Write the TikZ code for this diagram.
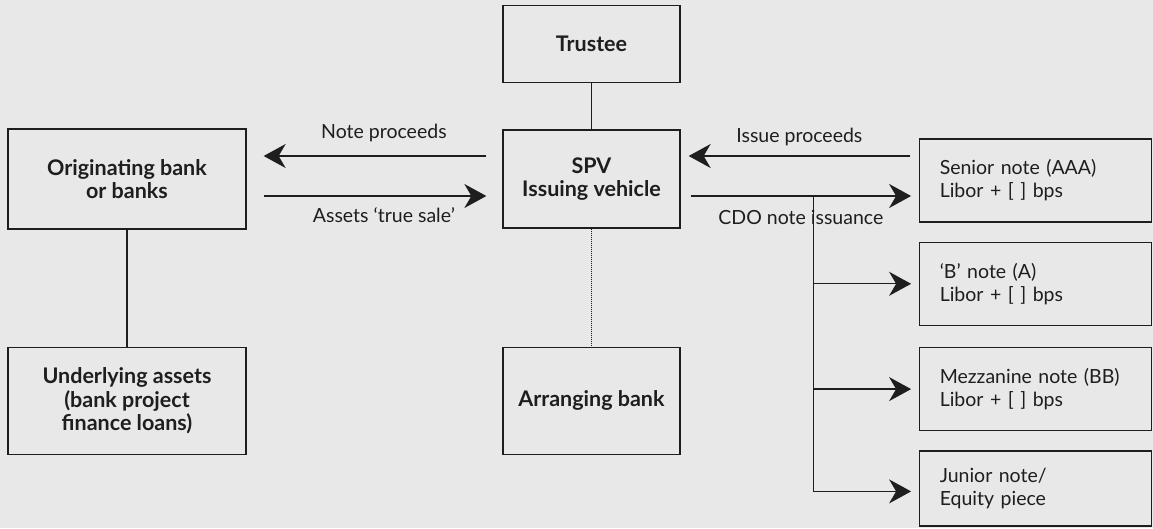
\documentclass[tikz,border=0pt]{standalone}
\usepackage{xcolor}
\usepackage{fontspec}
\setmainfont{Lato}
\usepackage{tikz}
\usetikzlibrary{positioning, arrows.meta, calc}
\definecolor{bgGrey}{HTML}{E8E8E8}
\definecolor{lineDark}{HTML}{1E1E1E}

\begin{document}
\begin{tikzpicture}[x=1pt, y=-1pt, node distance=46pt and 60pt,
	box/.style={draw=lineDark, line width=1.3pt, rectangle, inner sep=0pt, minimum width=177pt, align=center, text=lineDark, font=\fontsize{21.5}{23.3}\selectfont\bfseries},
	notebox/.style={draw=lineDark, line width=1.3pt, rectangle, inner xsep=0pt, minimum width=232pt, minimum height=83pt, text width=192pt, align=left, text=lineDark, font=\fontsize{19.5}{23}\selectfont},
	lbl/.style={text=lineDark, font=\fontsize{19.5}{22}\selectfont},
	flow/.style={-{Stealth[length=22pt, width=24pt, inset=7pt]}, draw=lineDark, line width=1.3pt},
	link/.style={draw=lineDark, line width=1.3pt}]
	% Background
	\fill[bgGrey] (0,0) rectangle (1153,528);
	\useasboundingbox (0,0) rectangle (1153,528);
	
	% Entities
	\node[box, minimum height=98pt] (spv) at (591.5,179) {SPV\\Issuing vehicle};
	\node[box, minimum height=77pt, above=46pt of spv] (trustee) {Trustee};
	\node[box, minimum height=107pt, below=118pt of spv] (arranger) {Arranging bank};
	
	\node[box, minimum width=238pt, minimum height=100pt] (orig) at (127,179) {Originating bank\\or banks};
	\node[box, minimum width=238pt, minimum height=107pt, below=117pt of orig] (assets) {Underlying assets\\(bank project\\finance loans)};
	
	\node[notebox] (senior) at (1035.75,180.5) {Senior note (AAA)\\Libor + [ ] bps};
	\node[notebox, below=19pt of senior] (bnote) {`B' note (A)\\Libor + [ ] bps};
	\node[notebox, below=21pt of bnote] (mezz) {Mezzanine note (BB)\\Libor + [ ] bps};
	\node[notebox, minimum height=75pt, below=19pt of mezz] (junior) {Junior note/\\Equity piece\\[4pt]};
	
	% Relationships
	\draw[link] (trustee) -- (spv);
	\draw[link, line width=1pt, densely dotted] (spv) -- (arranger);
	\draw[link] (orig) -- (assets);
	
	\draw[flow] ([xshift=-16pt, yshift=23pt]spv.west) -- node[lbl, pos=0.46, yshift=23pt] {Note proceeds} ([xshift=17pt, yshift=23pt]orig.east);
	\draw[flow] ([xshift=17pt, yshift=-17pt]orig.east) -- node[lbl, pos=0.54, yshift=-19pt] {Assets `true sale'} ([xshift=-16pt, yshift=-17pt]spv.west);
	
	\draw[flow] ([xshift=-9pt, yshift=24.5pt]senior.west) -- node[lbl, midway, yshift=19pt] {Issue proceeds} ([xshift=8pt, yshift=23pt]spv.east);
	\draw[flow] ([xshift=10pt, yshift=-17pt]spv.east) -- node[lbl, midway, yshift=-21pt] {CDO note issuance} ([xshift=-8pt, yshift=-15.5pt]senior.west);
	
	% Tranches
	\path ([xshift=133pt, yshift=-17pt]spv.east) coordinate (split);
	\draw[flow] (split) |- ([xshift=-8pt]bnote.west);
	\draw[flow] (split) |- ([xshift=-8pt]mezz.west);
	\draw[flow] (split) |- ([xshift=-8pt, yshift=-3pt]junior.west);
\end{tikzpicture}
\end{document}
